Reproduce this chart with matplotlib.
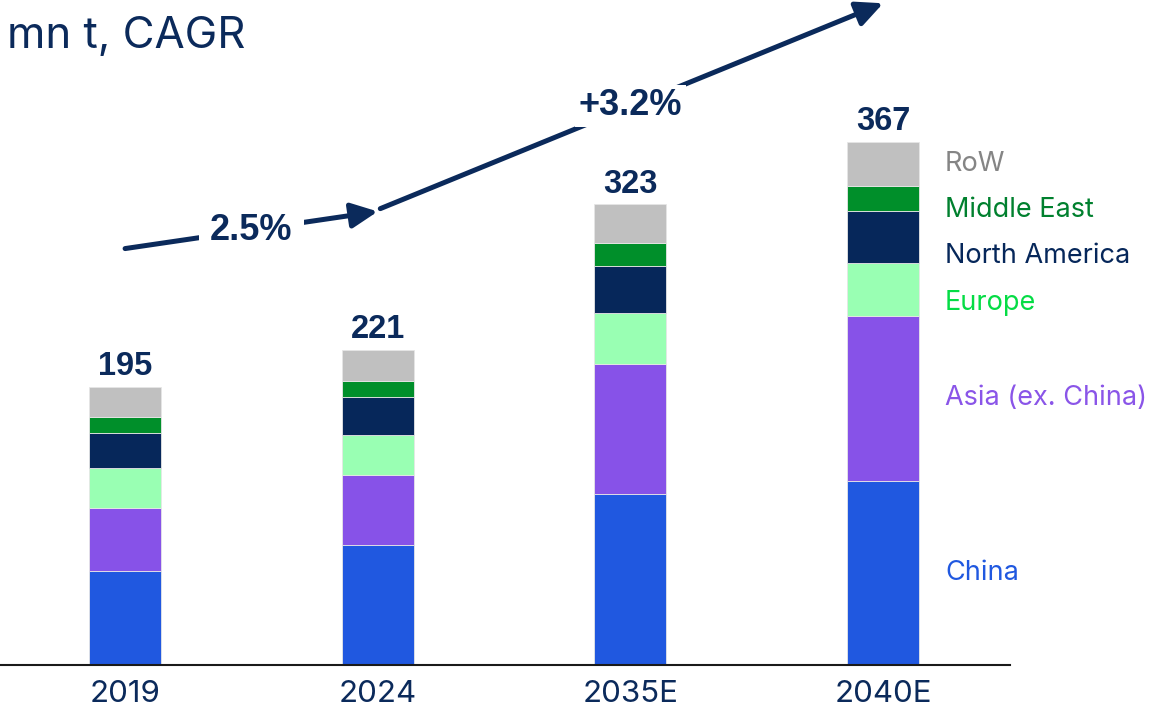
import matplotlib
matplotlib.use("Agg")
import matplotlib.pyplot as plt
import numpy as np

# Demand by region, mn t
years = ["2019", "2024", "2035E", "2040E"]
regions = ["China", "Asia (ex. China)", "Europe", "North America", "Middle East", "RoW"]
china = [66, 84, 120, 129]
asia_ex_china = [44, 49, 91, 116]
europe = [28, 28, 36, 37]
north_america = [25, 27, 33, 36]
middle_east = [11, 11, 16, 18]
rest_of_world = [21, 22, 27, 31]
totals = [195, 221, 323, 367]
cagr_labels = ["2.5%", "+3.2%"]

series = [china, asia_ex_china, europe, north_america, middle_east, rest_of_world]
bar_colors = ["#2058e0", "#8752e8", "#99ffb3", "#06275a", "#008f2a", "#c0c0c0"]
text_colors = ["#2058e0", "#8a55e8", "#05dc45", "#06275a", "#00802e", "#858585"]
navy = "#0b2a5b"

W, H, DPI = 1153, 712, 100
fig = plt.figure(figsize=(W / DPI, H / DPI), dpi=DPI)
ax = fig.add_axes([0, 1 - 665 / H, 1010 / W, 665 / H])

x = np.arange(len(years))
bottom = np.zeros(len(years))
for vals, col in zip(series, bar_colors):
    ax.bar(x, vals, bottom=bottom, width=0.285, color=col,
           edgecolor="#e6e6e6", linewidth=0.6, zorder=2)
    bottom += np.array(vals)

# total labels above each bar
for xi, tot in zip(x, totals):
    ax.annotate(f"{tot}", (xi, tot), xytext=(0, 14.5), textcoords="offset points",
                ha="center", va="center", fontsize=23.5, fontweight="bold",
                color=navy, family="Liberation Sans")

ax.set_xlim(-0.495, 3.502)
ax.set_ylim(0, 466.3)

# region labels to the right of the last bar, kept apart from each other
last = np.array([s[-1] for s in series], dtype=float)
centers = np.cumsum(last) - last / 2
label_y = centers.copy()
gap = 32.5
for i in range(len(label_y) - 2, -1, -1):
    label_y[i] = min(label_y[i], label_y[i + 1] - gap)
for name, yy, col in zip(regions, label_y, text_colors):
    ax.text(3.245, yy, name, ha="left", va="center", fontsize=19.5,
            color=col, family="Inter", clip_on=False)

# CAGR arrows
arrow_kw = dict(arrowstyle="-|>,head_length=0.8,head_width=0.38",
                mutation_scale=20, lw=3.6, color=navy, shrinkA=0, shrinkB=0)
ax.annotate("", xy=(1.0, 318), xytext=(0.0, 292), arrowprops=arrow_kw,
            annotation_clip=False, zorder=3)
ax.annotate("", xy=(3.0, 464), xytext=(1.01, 320), arrowprops=arrow_kw,
            annotation_clip=False, zorder=3)
ax.text(0.5, 305, cagr_labels[0], ha="center", va="center", fontsize=26,
        fontweight="bold", color=navy, family="Liberation Sans", zorder=4,
        bbox=dict(boxstyle="square,pad=0.3", fc="white", ec="none"))
ax.text(2.0, 392, cagr_labels[1], ha="center", va="center", fontsize=26,
        fontweight="bold", color=navy, family="Liberation Sans", zorder=4,
        bbox=dict(boxstyle="square,pad=0.1", fc="white", ec="none"))

ax.set_xticks(x)
ax.set_xticklabels(years, fontsize=22.5, color=navy, family="Inter")
ax.tick_params(axis="x", length=0, pad=11)
ax.set_yticks([])
for side in ["top", "right", "left"]:
    ax.spines[side].set_visible(False)
ax.spines["bottom"].set_color("#1a1a1a")
ax.spines["bottom"].set_linewidth(1.5)

fig.text(7 / W, 1 - 37 / H, "mn t, CAGR", ha="left", va="center",
         fontsize=31.5, color=navy, family="Inter")

fig.savefig("out.png", dpi=DPI, facecolor="white")
